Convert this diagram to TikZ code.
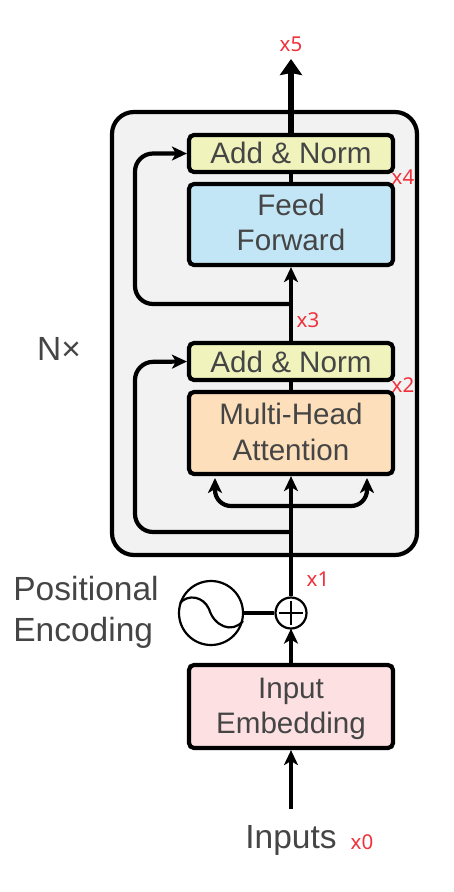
\documentclass[tikz,border=0pt]{standalone}
\usepackage{fontspec}
\setmainfont{Liberation Sans}
\newfontfamily\redfont{Noto Sans}
\usetikzlibrary{arrows.meta}
\definecolor{ink}{HTML}{454545}
\definecolor{mark}{HTML}{F0303A}
\newcommand\liftby[2]{\raisebox{#1}[\height][\depth]{#2}}
\tikzset{
  x=1pt,y=-1pt,
  blockbox/.style={draw=black,line width=4.2pt,rounded corners=5pt,minimum width=204pt,inner sep=0pt,align=center,text=ink,
    font=\fontsize{29.6}{35}\selectfont},
  lab/.style={text=ink,inner sep=0pt,align=left,font=\fontsize{33.5}{41}\selectfont},
  redlab/.style={text=mark,inner sep=0pt,font=\redfont\fontsize{20.5}{22}\selectfont},
  wire/.style={draw=black,line width=4.2pt},
  arrow/.style={wire,-{Stealth[length=15pt,width=14pt,inset=4pt]}},
}
\begin{document}
\begin{tikzpicture}
\useasboundingbox (0,0) rectangle (453,892);
\node[draw=black,line width=4.2pt,fill=black!5,rounded corners=22pt,minimum width=305pt,minimum height=443pt,inner sep=0pt] (stack) at (264.5,333.5) {};
\node[blockbox,fill={rgb,255:red,240;green,244;blue,188},minimum height=37pt] (an2) at (291,153.5) {\liftby{1pt}{Add \& Norm}};
\node[blockbox,minimum height=81pt,fill={rgb,255:red,194;green,230;blue,246}] (ff) at (291,224.5) {\liftby{2pt}{Feed}\\\liftby{2pt}{Forward}};
\node[blockbox,fill={rgb,255:red,240;green,244;blue,188},minimum height=37pt] (an1) at (291,361.5) {Add \& Norm};
\node[blockbox,fill={rgb,255:red,253;green,224;blue,187},minimum height=82pt] (mha) at (291,433) {\liftby{2pt}{Multi-Head}\\\liftby{1pt}{Attention}};
\node[blockbox,fill={rgb,255:red,252;green,224;blue,226},minimum height=83pt] (emb) at (291,706.5) {\liftby{-2pt}{Input}\\\liftby{-2pt}{Embedding}};
\node[draw=black,line width=2.2pt,fill=white,circle,minimum size=31pt,inner sep=0pt] (plus) at (291,613) {};
\draw[line width=2pt] (279,613) -- (303,613) (291,601) -- (291,625);
\node[draw=black,line width=2.2pt,fill=white,circle,minimum size=64pt,inner sep=0pt] (sine) at (211,613) {};
\draw[line width=2.2pt] (180,603) .. controls (188,594) and (203,596) .. (209,609)
  .. controls (214,626) and (232,634) .. (243,621);
\node[lab] (pe) at (86,612) {Positional\\Encoding};
\node[lab] (nx) at (59,349) {N×};
\node[text=ink,inner sep=0pt,font=\fontsize{33.5}{36}\selectfont] (inputs) at (291,840) {Inputs};
\coordinate (start) at (291,809);
\coordinate (out) at (291,59);
\coordinate (ffin) at (291,304);
\coordinate (mhain) at (291,532);
\coordinate (lt) at (215,478);
\coordinate (rt) at (367,478);
\coordinate (sp) at (291,506);
% connectors
\draw[arrow] (start) -- (emb.south);
\draw[arrow] (emb.north) -- ([yshift=1pt]plus.south);
\draw[wire] (sine.east) -- (plus.west);
\draw[arrow] (plus.north) -- (mha.south);
\draw[arrow,rounded corners=18pt] (mhain) -- (135,532) -- (135,362) -- (an1.west);
\draw[arrow,rounded corners=16pt] (sp) -- (215,506) -- (lt);
\draw[arrow,rounded corners=16pt] (sp) -- (367,506) -- (rt);
\draw[wire] (mha.north) -- (an1.south);
\draw[arrow] (an1.north) -- (ff.south);
\draw[arrow,rounded corners=18pt] (ffin) -- (135,304) -- (135,153.5) -- (an2.west);
\draw[wire] (ff.north) -- (an2.south);
\draw[draw=black,line width=5.5pt,-{Stealth[length=16pt,width=22pt,inset=2pt]}] (an2.north) -- (out);
% red labels
\node[redlab] (x5) at (291,44) {x5};
\node[redlab] (x4) at (403,177) {x4};
\node[redlab] (x3) at (308,320) {x3};
\node[redlab] (x2) at (403,385) {x2};
\node[redlab] (x1) at (318,579) {x1};
\node[redlab] (x0) at (362,842) {x0};
\end{tikzpicture}
\end{document}
